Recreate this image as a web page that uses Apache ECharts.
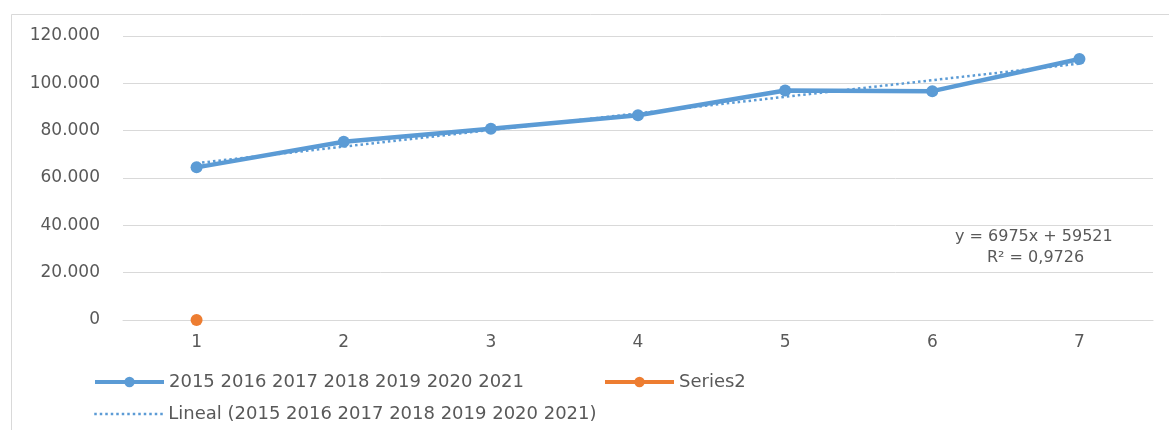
<!DOCTYPE html>
<html>
<head>
<meta charset="utf-8">
<script src="https://cdn.jsdelivr.net/npm/echarts@6/dist/echarts.min.js"></script>
<style>
html,body{margin:0;padding:0;background:#fff;}
#chart{width:1169px;height:430px;}
</style>
</head>
<body>
<div id="chart"></div>
<script>
const categories = ['1', '2', '3', '4', '5', '6', '7'];
const seriesName = '2015 2016 2017 2018 2019 2020 2021';
const values = [64500, 75300, 80800, 86500, 97000, 96700, 110300];
const series2Name = 'Series2';
const series2Values = [0, null, null, null, null, null, null];
const trendName = 'Lineal (2015 2016 2017 2018 2019 2020 2021)';
const equationLines = ['y = 6975x + 59521', 'R² = 0,9726'];
const yTicks = { min: 0, max: 120000, interval: 20000 };

// least-squares trend line over x = 1..n
const n = values.length;
const xs = values.map((_, i) => i + 1);
const mx = xs.reduce((a, b) => a + b, 0) / n;
const my = values.reduce((a, b) => a + b, 0) / n;
let sxy = 0, sxx = 0;
for (let i = 0; i < n; i++) { sxy += (xs[i] - mx) * (values[i] - my); sxx += (xs[i] - mx) ** 2; }
const slope = sxy / sxx, intercept = my - slope * mx;
const trendValues = xs.map(x => slope * x + intercept);

const BLUE = '#5B9BD5', ORANGE = '#ED7D31', GRID = '#D9D9D9', TXT = '#595959';
const FONT = 'DejaVu Sans';

const chart = echarts.init(document.getElementById('chart'), null, { renderer: 'canvas' });
const legendBase = {
  orient: 'horizontal', padding: 0, itemWidth: 69, itemHeight: 13, itemGap: 5,
  textStyle: { fontFamily: FONT, fontSize: 18, color: TXT },
  selectedMode: false
};
chart.setOption({
  backgroundColor: '#fff',
  animation: false,
  grid: { left: 123, right: 16, top: 36, bottom: 110, containLabel: false },
  graphic: [
    { type: 'rect', shape: { x: 11.5, y: 14.5, width: 1200, height: 500 }, style: { fill: 'none', stroke: GRID, lineWidth: 1 }, z: 0 },
    { type: 'text', left: 955, top: 229, style: { text: equationLines[0], fontFamily: FONT, fontSize: 16, fill: TXT } },
    { type: 'text', left: 987, top: 250, style: { text: equationLines[1], fontFamily: FONT, fontSize: 16, fill: TXT } }
  ],
  legend: [
    Object.assign({}, legendBase, { left: 93, top: 373, lineStyle: { width: 4 }, data: [seriesName] }),
    Object.assign({}, legendBase, { left: 603, top: 373, lineStyle: { width: 4 }, data: [series2Name] }),
    Object.assign({}, legendBase, { left: 93, top: 405, lineStyle: { width: 2.5, type: [2.5, 3] },
      data: [{ name: trendName, itemStyle: { opacity: 0 } }] })
  ],
  xAxis: {
    type: 'category', data: categories, boundaryGap: true,
    axisLine: { show: true, lineStyle: { color: GRID, width: 1 } },
    axisTick: { show: false },
    axisLabel: { fontFamily: FONT, fontSize: 17, color: TXT, margin: 14 },
    splitLine: { show: false }
  },
  yAxis: {
    type: 'value', min: yTicks.min, max: yTicks.max, interval: yTicks.interval,
    axisLine: { show: false }, axisTick: { show: false },
    axisLabel: {
      fontFamily: FONT, fontSize: 17, color: TXT, margin: 23,
      formatter: v => v.toString().replace(/\B(?=(\d{3})+(?!\d))/g, '.')
    },
    splitLine: { lineStyle: { color: GRID, width: 1 } }
  },
  series: [
    {
      name: trendName, type: 'line', data: trendValues, symbol: 'none', showSymbol: false,
      lineStyle: { color: BLUE, width: 2.5, type: [2.5, 3] }, itemStyle: { color: BLUE }, z: 2
    },
    {
      name: seriesName, type: 'line', data: values, symbol: 'circle', symbolSize: 12,
      lineStyle: { color: BLUE, width: 4.5 }, itemStyle: { color: BLUE }, z: 3
    },
    {
      name: series2Name, type: 'line', data: series2Values, symbol: 'circle', symbolSize: 12,
      lineStyle: { color: ORANGE, width: 4 }, itemStyle: { color: ORANGE }, z: 4
    }
  ]
});
</script>
</body>
</html>
